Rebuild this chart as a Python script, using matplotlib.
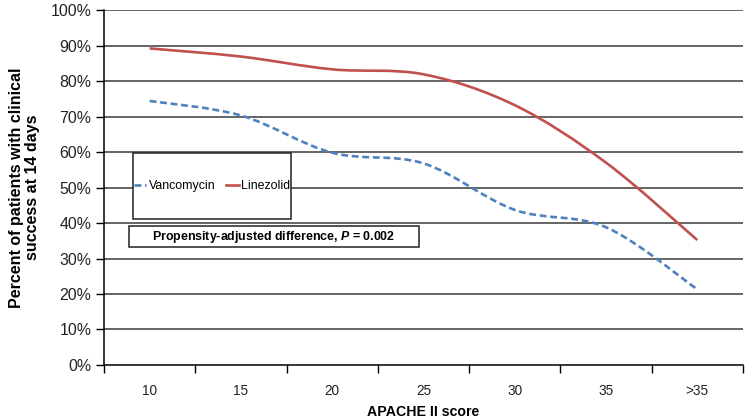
import matplotlib
matplotlib.use("Agg")
import matplotlib.pyplot as plt
from matplotlib.path import Path
from matplotlib.patches import PathPatch, Rectangle
from matplotlib.lines import Line2D

plt.rcParams['font.family'] = ['Liberation Sans', 'DejaVu Sans']
plt.rcParams['mathtext.fontset'] = 'custom'
plt.rcParams['mathtext.bfit'] = 'Liberation Sans:italic:bold'
plt.rcParams['mathtext.rm'] = 'Liberation Sans:bold'

# data
categories = ['10', '15', '20', '25', '30', '35', '>35']
vancomycin = [74.4, 70.3, 59.8, 56.8, 43.7, 38.8, 21.3]
linezolid = [89.2, 86.9, 83.3, 81.9, 73.2, 57.0, 35.2]
yticks = list(range(0, 101, 10))

blue = '#4F81BD'
red = '#C0504D'


def smooth_path(xs, ys):
    # Excel-style smoothed line: cubic Bezier through every data point
    verts = [(xs[0], ys[0])]
    codes = [Path.MOVETO]
    n = len(xs)
    for i in range(n - 1):
        p0 = (xs[max(i - 1, 0)], ys[max(i - 1, 0)])
        p1 = (xs[i], ys[i])
        p2 = (xs[i + 1], ys[i + 1])
        p3 = (xs[min(i + 2, n - 1)], ys[min(i + 2, n - 1)])
        c1 = (p1[0] + (p2[0] - p0[0]) / 6, p1[1] + (p2[1] - p0[1]) / 6)
        c2 = (p2[0] - (p3[0] - p1[0]) / 6, p2[1] - (p3[1] - p1[1]) / 6)
        verts += [c1, c2, p2]
        codes += [Path.CURVE4] * 3
    return Path(verts, codes)


fig = plt.figure(figsize=(7.52, 4.2), dpi=100)
ax = fig.add_axes([0.1383, 0.131, 0.8497, 0.845])

x = list(range(len(categories)))
ax.set_xlim(-0.5, len(categories) - 0.5)
ax.set_ylim(0, 100)

for v in yticks[1:]:
    ax.axhline(v, color='#3a3a3a', lw=1.1, zorder=1)

dash = (0, (2.6, 1.4))
ax.add_patch(PathPatch(smooth_path(x, vancomycin), fill=False, edgecolor=blue,
                       lw=1.9, linestyle=dash, zorder=3))
ax.add_patch(PathPatch(smooth_path(x, linezolid), fill=False, edgecolor=red,
                       lw=1.9, zorder=3))

ax.set_yticks(yticks)
ax.set_yticklabels(['%d%%' % v for v in yticks], fontsize=11.4, color='#222222')
ax.set_xticks(x)
ax.set_xticklabels(categories, fontsize=9.8, color='#222222')
ax.set_xticks([i - 0.5 for i in range(len(categories) + 1)], minor=True)
ax.tick_params(axis='x', which='major', length=0, pad=14)
ax.tick_params(axis='x', which='minor', length=6, direction='out', width=1)
ax.tick_params(axis='y', length=6, direction='out', width=1, pad=3)

for s in ['top', 'right']:
    ax.spines[s].set_visible(False)
ax.spines['left'].set_linewidth(1.1)
ax.spines['bottom'].set_linewidth(1.1)

ax.set_xlabel('APACHE II score', fontsize=10.2, fontweight='bold', labelpad=5)
ax.set_ylabel('Percent of patients with clinical\nsuccess at 14 days',
              fontsize=11.5, fontweight='bold', labelpad=8, linespacing=1.05)

# legend box
ax.add_patch(Rectangle((0.045, 0.411), 0.248, 0.186, transform=ax.transAxes,
                       facecolor='white', edgecolor='#222222', lw=1.1, zorder=4))
handles = [Line2D([], [], color=blue, lw=1.9, linestyle=dash),
           Line2D([], [], color=red, lw=1.9)]
ax.legend(handles, ['Vancomycin', 'Linezolid'], loc='center',
          bbox_to_anchor=(0.169, 0.504), frameon=False, ncol=2,
          fontsize=8.9, handlelength=1.0, handletextpad=0.2, columnspacing=0.9,
          borderpad=0)

# annotation box
ax.add_patch(Rectangle((0.039, 0.332), 0.454, 0.059, transform=ax.transAxes,
                       facecolor='white', edgecolor='#222222', lw=1.1, zorder=4))
ax.text(0.266, 0.362, r'Propensity-adjusted difference, $\mathbfit{P}$ = 0.002',
        transform=ax.transAxes, ha='center', va='center', fontsize=8.9,
        fontweight='bold', zorder=5)

fig.savefig('out.png', dpi=100)
